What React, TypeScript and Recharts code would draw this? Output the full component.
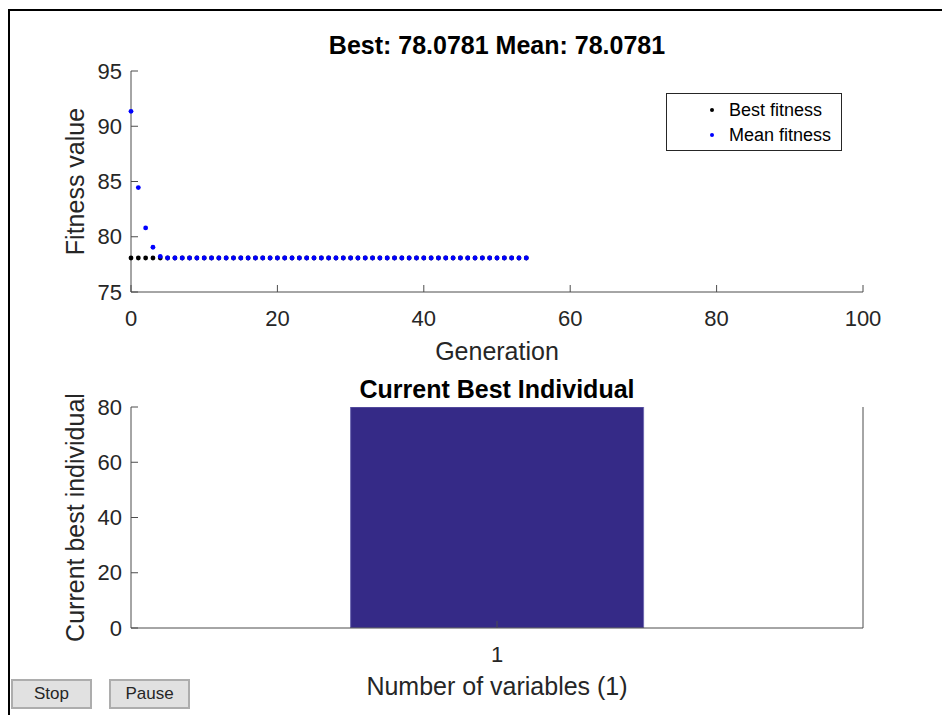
import React from 'react';
import {
  ScatterChart, Scatter, XAxis, YAxis, Legend, BarChart, Bar, Label,
} from 'recharts';

// ---- data ----
const generations: number[] = Array.from({ length: 55 }, (_, i) => i);
const bestFitness: number[] = [
  78.0781, 78.0781, 78.0781, 78.0781, 78.0781, 78.0781, 78.0781, 78.0781, 78.0781, 78.0781,
  78.0781, 78.0781, 78.0781, 78.0781, 78.0781, 78.0781, 78.0781, 78.0781, 78.0781, 78.0781,
  78.0781, 78.0781, 78.0781, 78.0781, 78.0781, 78.0781, 78.0781, 78.0781, 78.0781, 78.0781,
  78.0781, 78.0781, 78.0781, 78.0781, 78.0781, 78.0781, 78.0781, 78.0781, 78.0781, 78.0781,
  78.0781, 78.0781, 78.0781, 78.0781, 78.0781, 78.0781, 78.0781, 78.0781, 78.0781, 78.0781,
  78.0781, 78.0781, 78.0781, 78.0781, 78.0781,
];
const meanFitness: number[] = [
  91.35, 84.45, 80.8, 79.05, 78.22, 78.0781, 78.0781, 78.0781, 78.0781, 78.0781,
  78.0781, 78.0781, 78.0781, 78.0781, 78.0781, 78.0781, 78.0781, 78.0781, 78.0781, 78.0781,
  78.0781, 78.0781, 78.0781, 78.0781, 78.0781, 78.0781, 78.0781, 78.0781, 78.0781, 78.0781,
  78.0781, 78.0781, 78.0781, 78.0781, 78.0781, 78.0781, 78.0781, 78.0781, 78.0781, 78.0781,
  78.0781, 78.0781, 78.0781, 78.0781, 78.0781, 78.0781, 78.0781, 78.0781, 78.0781, 78.0781,
  78.0781, 78.0781, 78.0781, 78.0781, 78.0781,
];
const genTicks = [0, 20, 40, 60, 80, 100];
const fitnessTicks = [75, 80, 85, 90, 95];
const variableNames = ['1'];
const bestIndividual = [80];
const individualTicks = [0, 20, 40, 60, 80];

const bestData = generations.map((g, i) => ({ gen: g, value: bestFitness[i] }));
const meanData = generations.map((g, i) => ({ gen: g, value: meanFitness[i] }));
const barData = variableNames.map((n, i) => ({ name: n, value: bestIndividual[i] }));

// ---- styling ----
const FONT = '"Liberation Sans", Arial, Helvetica, sans-serif';
const AXIS = '#4d4d4d';
const TXT = '#262626';
const TICK_FS = 22;
const LABEL_FS = 25;
const TICK_LEN = 7;

const XTick = (props: any) => {
  const { x, y, payload } = props;
  return (
    <g>
      <line x1={x} y1={y} x2={x} y2={y - TICK_LEN} stroke={AXIS} strokeWidth={1} />
      <text x={x} y={y + 26} textAnchor="middle" dominantBaseline="central"
        fontFamily={FONT} fontSize={TICK_FS} fill={TXT}>{payload.value}</text>
    </g>
  );
};

const YTick = (props: any) => {
  const { x, y, payload } = props;
  return (
    <g>
      <line x1={x} y1={y} x2={x + TICK_LEN} y2={y} stroke={AXIS} strokeWidth={1} />
      <text x={x - 9} y={y} textAnchor="end" dominantBaseline="central"
        fontFamily={FONT} fontSize={TICK_FS} fill={TXT}>{payload.value}</text>
    </g>
  );
};

const YTickRight = (props: any) => {
  const { x, y } = props;
  return <line x1={x} y1={y} x2={x - TICK_LEN} y2={y} stroke={AXIS} strokeWidth={1} />;
};

const xLabel = (text: string, dy: number) => (props: any) => {
  const vb = props.viewBox || {};
  return (
    <text x={vb.x + vb.width / 2} y={vb.y + dy} textAnchor="middle" dominantBaseline="central"
      fontFamily={FONT} fontSize={LABEL_FS} fill={TXT}>{text}</text>
  );
};

const yLabel = (text: string) => (props: any) => {
  const vb = props.viewBox || {};
  const cx = vb.x + vb.width - 56;
  const cy = vb.y + vb.height / 2;
  return (
    <text x={cx} y={cy} textAnchor="middle" dominantBaseline="central"
      transform={`rotate(-90, ${cx}, ${cy})`}
      fontFamily={FONT} fontSize={LABEL_FS} fill={TXT}>{text}</text>
  );
};

const Dot = (color: string) => (p: any) => (
  <circle cx={p.cx} cy={p.cy} r={2.4} fill={color} />
);

const LegendBox = (props: any) => {
  const payload = props.payload || [];
  return (
    <div style={{
      width: 174, height: 56, border: '1px solid #262626', background: '#fff',
      boxSizing: 'content-box', position: 'relative', fontFamily: FONT,
    }}>
      {payload.map((e: any, i: number) => (
        <div key={i} style={{ position: 'absolute', left: 0, top: 4 + i * 25, height: 24, width: 174 }}>
          <span style={{
            position: 'absolute', left: 43, top: 10, width: 4, height: 4,
            borderRadius: 2, background: e.color,
          }} />
          <span style={{
            position: 'absolute', left: 62, top: 1, fontSize: 18, lineHeight: '22px', color: '#000',
            whiteSpace: 'nowrap',
          }}>{e.value}</span>
        </div>
      ))}
    </div>
  );
};

const titleStyle = (top: number): React.CSSProperties => ({
  position: 'absolute', left: 131, width: 732, top, textAlign: 'center',
  fontFamily: FONT, fontWeight: 'bold', fontSize: LABEL_FS, lineHeight: '28px', color: '#000',
});

const buttonStyle = (left: number): React.CSSProperties => ({
  position: 'absolute', left, top: 679, width: 77, height: 26, background: '#e1e1e1',
  border: '2px solid #adadad', fontFamily: FONT, fontSize: 17, color: TXT,
  display: 'flex', alignItems: 'center', justifyContent: 'center', boxSizing: 'content-box',
});

export default function App() {
  return (
    <div style={{ position: 'absolute', left: 0, top: 0, width: 942, height: 715, background: '#fff', overflow: 'hidden' }}>
      {/* window frame */}
      <div style={{ position: 'absolute', left: 8, top: 9, width: 940, height: 720, borderTop: '2px solid #000', borderLeft: '2px solid #000' }} />

      <div style={titleStyle(31)}>Best: 78.0781 Mean: 78.0781</div>
      <div style={titleStyle(375)}>Current Best Individual</div>

      {/* top chart */}
      <div style={{ position: 'absolute', left: 0, top: 0 }}>
        <ScatterChart width={942} height={380} margin={{ top: 71, right: 79, bottom: 18, left: 61 }}>
          <XAxis type="number" dataKey="gen" domain={[0, 100]} ticks={genTicks} interval={0}
            height={70} axisLine={{ stroke: AXIS }} tickLine={false} tickSize={0} tickMargin={0}
            tick={<XTick />}>
            <Label content={xLabel('Generation', 59)} />
          </XAxis>
          <YAxis type="number" dataKey="value" domain={[75, 95]} ticks={fitnessTicks} interval={0}
            width={70} axisLine={{ stroke: AXIS }} tickLine={false} tickSize={0} tickMargin={0}
            tick={<YTick />}>
            <Label content={yLabel('Fitness value')} />
          </YAxis>
          <Legend layout="vertical" align="center" verticalAlign="middle"
            wrapperStyle={{ top: 93, left: 666, width: 176, height: 58 }}
            content={<LegendBox />} />
          <Scatter name="Best fitness" data={bestData} fill="#000000" shape={Dot('#000000')} isAnimationActive={false} />
          <Scatter name="Mean fitness" data={meanData} fill="#0000ff" shape={Dot('#0000ff')} isAnimationActive={false} />
        </ScatterChart>
      </div>

      {/* bottom chart */}
      <div style={{ position: 'absolute', left: 0, top: 360 }}>
        <BarChart width={942} height={355} data={barData} barCategoryGap="30%"
          margin={{ top: 47, right: 78, bottom: 15, left: 61 }}>
          <XAxis dataKey="name" height={72} axisLine={{ stroke: AXIS }} tickLine={false}
            tickSize={0} tickMargin={0} tick={<XTick />} padding={{ left: 0, right: 0 }}>
            <Label content={xLabel('Number of variables (1)', 58)} />
          </XAxis>
          <XAxis xAxisId="top" dataKey="name" orientation="top" height={0} axisLine={{ stroke: AXIS }}
            tickLine={false} tick={false} />
          <YAxis domain={[0, 80]} ticks={individualTicks} interval={0} allowDataOverflow
            width={70} axisLine={{ stroke: AXIS }} tickLine={false} tickSize={0} tickMargin={0}
            tick={<YTick />}>
            <Label content={yLabel('Current best individual')} />
          </YAxis>
          <YAxis yAxisId="right" orientation="right" domain={[0, 80]} ticks={individualTicks} interval={0}
            width={1} axisLine={{ stroke: AXIS }} tickLine={false} tickSize={0} tickMargin={0}
            tick={<YTickRight />} />
          <Bar dataKey="value" fill="#352A87" stroke="#6e68b0" strokeWidth={1} isAnimationActive={false} />
        </BarChart>
      </div>

      <div style={buttonStyle(11)}>Stop</div>
      <div style={buttonStyle(109)}>Pause</div>
    </div>
  );
}
